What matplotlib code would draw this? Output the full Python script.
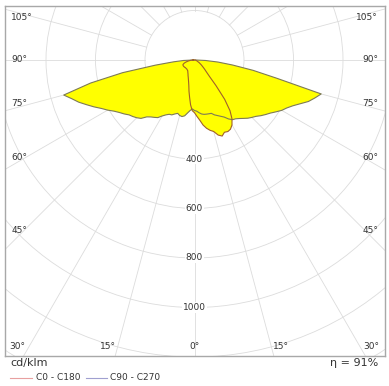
import numpy as np
import matplotlib
matplotlib.use("Agg")
import matplotlib.pyplot as plt
from matplotlib.patches import Circle

# gamma angles (deg from nadir) and intensities in cd/klm
angles = np.arange(0, 92.5, 2.5)

# C90 - C270 plane (wide batwing)
c90 = np.array([204, 207, 214, 220, 223, 224, 225, 226, 236, 243, 251, 260, 275,
                286, 290, 298, 308, 319, 328, 337, 350, 362, 374, 390, 407, 420,
                438, 462, 490, 510, 530, 340, 240, 155, 95, 45, 5])
c270 = np.array([204, 198, 205, 216, 229, 234, 232, 226, 232, 240, 242, 250, 261,
                 276, 283, 290, 300, 320, 330, 338, 345, 358, 370, 385, 405, 424,
                 448, 472, 498, 520, 547, 430, 295, 159, 85, 45, 5])

# C0 - C180 plane (narrow tilted lobe)
c0 = np.array([213, 228, 244, 265, 280, 291, 299, 318, 327, 316, 319, 315, 303,
               282, 250, 200, 135, 88, 68, 56, 46, 38, 32, 26, 22, 17, 14, 12,
               10, 8, 7, 6, 5, 4, 3, 3, 2])
c180 = np.array([213, 205, 182, 152, 128, 106, 92, 82, 74, 68, 62, 58, 54, 51,
                 50, 49, 48, 48, 48, 48, 48, 49, 50, 50, 51, 51, 51, 51, 48, 44,
                 39, 33, 27, 21, 15, 10, 6])

ring_values = [400, 600, 800, 1000]
side_labels = ["105°", "90°", "75°", "60°", "45°"]
side_label_y = [170, 4, -174, -392, -687]
bottom_labels = ["30°", "15°", "0°", "15°", "30°"]
bottom_label_x = [-715, -351, 0, 351, 715]


def shape(right, left):
    g = np.radians(angles)
    xs = np.concatenate([-left[::-1] * np.sin(g[::-1]), right * np.sin(g)])
    ys = np.concatenate([-left[::-1] * np.cos(g[::-1]), -right * np.cos(g)])
    return xs, ys


W, H = 389, 386
s = 0.2475  # px per cd/klm
fig = plt.figure(figsize=(W / 100, H / 100), dpi=100)
ax = fig.add_axes([4.5 / W, 1 - 356 / H, 380 / W, 350 / H])
ax.set_xlim(-190 / s, 190 / s)
ax.set_ylim(-296 / s, 54 / s)
ax.set_xticks([])
ax.set_yticks([])
for sp in ax.spines.values():
    sp.set_color("#a8a8a8")
    sp.set_linewidth(1)

gridc = "#dcdcdc"
for r in range(200, 1800, 200):
    ax.add_patch(Circle((0, 0), r, fill=False, ec=gridc, lw=0.6, zorder=1))
for a in range(0, 360, 15):
    t = np.radians(a)
    ax.plot([200 * np.sin(t), 2500 * np.sin(t)], [-200 * np.cos(t), -2500 * np.cos(t)],
            color=gridc, lw=0.6, zorder=1)

for r in ring_values:
    ax.text(0, -r, str(r), ha="center", va="center", fontsize=6.5, color="#333333",
            bbox=dict(fc="white", ec="none", pad=0.5), zorder=2)

wx, wy = shape(c90, c270)
lx, ly = shape(c0, c180)
ax.fill(wx, wy, color="#ffff00", lw=0, zorder=3)
ax.fill(lx, ly, color="#ffff00", lw=0, zorder=3)
ax.plot(np.append(wx, wx[0]), np.append(wy, wy[0]), color="#7d7a55", lw=0.8, zorder=4)
ax.plot(np.append(lx, lx[0]), np.append(ly, ly[0]), color="#a0602a", lw=0.8, zorder=4)

for lab, y in zip(side_labels, side_label_y):
    ax.text(-740, y, lab, ha="left", va="center", fontsize=6.5, color="#333333", zorder=5)
    ax.text(742, y, lab, ha="right", va="center", fontsize=6.5, color="#333333", zorder=5)
for lab, x in zip(bottom_labels, bottom_label_x):
    ax.text(x, -1159, lab, ha="center", va="center", fontsize=6.5, color="#333333", zorder=5)

fig.text(10 / W, 1 - 363 / H, "cd/klm", ha="left", va="center", fontsize=8, color="#333333")
fig.text(378 / W, 1 - 363 / H, "η = 91%", ha="right", va="center", fontsize=8, color="#333333")
fig.add_artist(plt.Line2D([10 / W, 32 / W], [1 - 378 / H] * 2, color="#e8a0a0", lw=0.8))
fig.text(36 / W, 1 - 378 / H, "C0 - C180", ha="left", va="center", fontsize=6.5, color="#333333")
fig.add_artist(plt.Line2D([86 / W, 107 / W], [1 - 378 / H] * 2, color="#a0a0d0", lw=0.8))
fig.text(110 / W, 1 - 378 / H, "C90 - C270", ha="left", va="center", fontsize=6.5, color="#333333")

fig.savefig("out.png", dpi=100)
